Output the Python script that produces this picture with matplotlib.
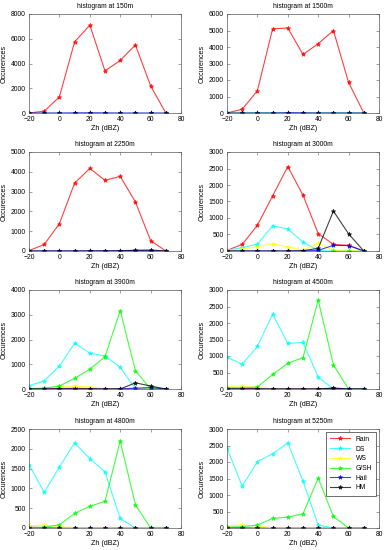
import matplotlib
matplotlib.use("Agg")
import matplotlib.pyplot as plt
import numpy as np

plt.rcParams['font.family'] = ['Liberation Sans', 'DejaVu Sans']

zh = [-20, -10, 0, 10, 20, 30, 40, 50, 60, 70]
classes = ["Rain", "DS", "WS", "G/SH", "Hail", "HM"]
colors = ["#ff0000", "#00ffff", "#ffff00", "#00ff00", "#0000ff", "#000000"]
heights = ["150m", "1500m", "2250m", "3000m", "3900m", "4500m", "4800m", "5250m"]
ymax = [8000, 6000, 5000, 3000, 4000, 3000, 2500, 3000]
ystep = [2000, 1000, 1000, 500, 1000, 500, 500, 500]

# values per height: Rain, DS, WS, G/SH, Hail, HM
h150 = [
    [0, 150, 1300, 5750, 7100, 3400, 4250, 5500, 2200, 0],
    [0, 0, 0, 0, 0, 0, 0, 0, 0, 0],
    [0, 0, 0, 0, 0, 0, 0, 0, 0, 0],
    [0, 0, 0, 0, 0, 0, 0, 0, 0, 0],
    [0, 0, 0, 10, 20, 10, 0, 0, 0, 0],
    [0, 0, 0, 0, 0, 0, 0, 0, 0, 0],
]
h1500 = [
    [0, 230, 1350, 5100, 5150, 3550, 4200, 5000, 1850, 0],
    [0, 0, 0, 0, 0, 0, 0, 0, 0, 0],
    [0, 0, 0, 0, 0, 0, 0, 0, 0, 0],
    [0, 0, 10, 0, 0, 0, 0, 0, 0, 0],
    [0, 0, 0, 0, 20, 10, 0, 0, 0, 0],
    [0, 0, 0, 0, 0, 0, 0, 0, 0, 0],
]
h2250 = [
    [20, 330, 1380, 3430, 4170, 3570, 3770, 2480, 530, 0],
    [0, 0, 0, 0, 0, 0, 0, 0, 0, 0],
    [0, 0, 0, 0, 0, 0, 0, 0, 0, 0],
    [0, 0, 0, 0, 0, 0, 0, 0, 0, 0],
    [0, 0, 0, 0, 10, 10, 10, 20, 20, 0],
    [0, 0, 0, 0, 0, 0, 10, 40, 50, 0],
]
h3000 = [
    [20, 200, 780, 1670, 2560, 1690, 530, 200, 170, 0],
    [30, 100, 210, 760, 670, 270, 10, 0, 0, 0],
    [20, 60, 130, 220, 120, 30, 230, 20, 0, 0],
    [0, 0, 0, 0, 0, 0, 0, 0, 0, 0],
    [0, 0, 0, 0, 0, 0, 20, 170, 165, 0],
    [0, 0, 0, 0, 0, 10, 80, 1210, 520, 0],
]
h3900 = [
    [0, 0, 20, 30, 20, 0, 0, 0, 0, 0],
    [130, 330, 930, 1850, 1450, 1330, 880, 0, 0, 0],
    [10, 40, 80, 120, 80, 10, 0, 0, 0, 0],
    [20, 30, 120, 430, 800, 1300, 3170, 740, 0, 0],
    [0, 0, 0, 0, 0, 0, 10, 30, 60, 0],
    [0, 0, 0, 0, 0, 0, 0, 250, 120, 0],
]
h4500 = [
    [30, 20, 10, 0, 0, 0, 0, 0, 0, 0],
    [960, 750, 1290, 2270, 1380, 1410, 360, 0, 0, 0],
    [60, 90, 50, 10, 0, 0, 0, 0, 0, 0],
    [20, 30, 60, 440, 780, 950, 2700, 730, 0, 0],
    [0, 0, 0, 0, 0, 0, 0, 20, 0, 0],
    [0, 0, 0, 0, 0, 0, 0, 30, 0, 0],
]
h4800 = [
    [20, 10, 0, 0, 0, 0, 0, 0, 0, 0],
    [1600, 900, 1540, 2150, 1750, 1420, 240, 0, 0, 0],
    [60, 70, 30, 10, 0, 0, 0, 0, 0, 0],
    [10, 20, 80, 370, 550, 670, 2200, 590, 0, 0],
    [0, 0, 0, 0, 0, 0, 0, 0, 0, 0],
    [0, 0, 0, 0, 0, 0, 0, 0, 0, 0],
]
h5250 = [
    [20, 10, 0, 0, 0, 0, 0, 0, 0, 0],
    [2420, 1270, 2010, 2250, 2580, 1420, 90, 0, 0, 0],
    [60, 90, 60, 0, 0, 0, 0, 0, 0, 0],
    [20, 40, 90, 290, 330, 430, 1510, 350, 0, 0],
    [0, 0, 0, 0, 0, 0, 0, 0, 0, 0],
    [0, 0, 0, 0, 0, 0, 0, 0, 0, 0],
]
panels = [h150, h1500, h2250, h3000, h3900, h4500, h4800, h5250]

fig = plt.figure(figsize=(3.87, 5.5), dpi=100)
lefts = [29 / 387, 227 / 387]
w = 152 / 387
tops_px = [14, 152, 290, 429]
h = 99 / 550
fs = 4.9
edge = "0.35"

for i, data in enumerate(panels):
    r, c = divmod(i, 2)
    bottom = 1 - (tops_px[r] + 99) / 550
    ax = fig.add_axes([lefts[c], bottom, w, h])
    for k, series in enumerate(data):
        ax.plot(zh, series, '-', marker='*', color=colors[k], lw=0.8,
                ms=3.2, mew=0.6, alpha=0.75, label=classes[k])
    ax.set_xlim(-20, 80)
    ax.set_ylim(0, ymax[i])
    ax.set_xticks(np.arange(-20, 81, 20))
    ax.set_yticks(np.arange(0, ymax[i] + 1, ystep[i]))
    ax.tick_params(direction='in', length=2, width=0.4, labelsize=fs,
                   top=True, right=True, pad=2.2, colors=edge, labelcolor='black')
    for s in ax.spines.values():
        s.set_linewidth(0.5)
        s.set_color(edge)
    ax.set_title("histogram at " + heights[i], fontsize=fs, pad=4)
    ax.set_xlabel("Zh (dBZ)", fontsize=fs + 0.2, labelpad=1.5)
    ax.set_ylabel("Occurences", fontsize=fs + 0.2, labelpad=2)
    if i == 7:
        leg = ax.legend(loc='upper right', fontsize=fs, frameon=True,
                        fancybox=False, edgecolor='black', handlelength=3.0,
                        borderpad=0.6, labelspacing=0.4, handletextpad=0.8,
                        borderaxespad=0.4)
        leg.get_frame().set_linewidth(0.5)

fig.savefig("out.png", dpi=100)
